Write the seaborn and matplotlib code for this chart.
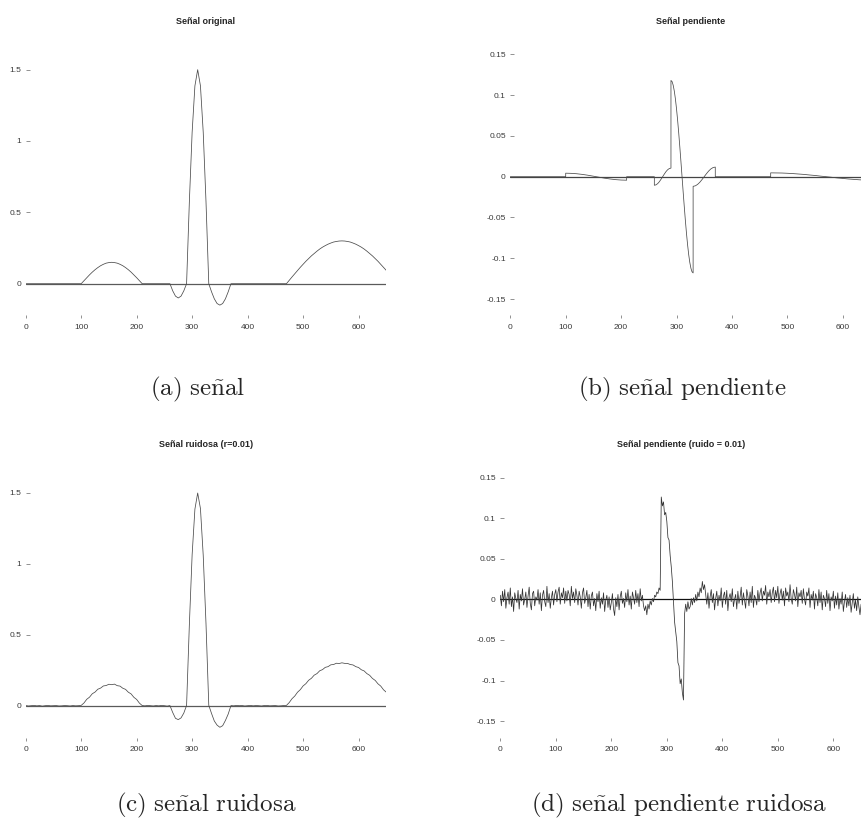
import numpy as np
import matplotlib
matplotlib.use("Agg")
import matplotlib.pyplot as plt
import seaborn as sns

# sample positions
x_step5 = np.arange(0, 651, 5)
x_step2 = np.arange(0, 651, 2)

# (a) original signal, thousandths, every 5 samples
senal = ([0] * 20
         + [0, 21, 42, 62, 81, 98, 113, 126, 136, 144, 148, 150, 148, 144, 136, 126, 113, 98, 81, 62, 42, 21, 0]
         + [0] * 9
         + [0, -50, -87, -100, -87, -50, 0]
         + [574, 1061, 1386, 1500, 1386, 1061, 574, 0]
         + [-57, -106, -139, -150, -139, -106, -57, 0]
         + [0] * 19
         + [0, 24, 47, 70, 93, 115, 136, 157, 176, 195, 212, 228, 243, 256, 267, 277, 285, 292, 296,
            299, 300, 299, 296, 292, 285, 277, 267, 256, 243, 228, 212, 195, 176, 157, 136, 115, 93])

# (b) slope of the signal, per segment
pend_seg1 = [0.0043, 0.0041, 0.0036, 0.0028, 0.0018, 0.0006, -0.0006, -0.0018, -0.0028, -0.0036, -0.0041, -0.0043]
pend_seg2 = [-0.0105, -0.0100, -0.0085, -0.0062, -0.0032, 0, 0.0032, 0.0062, 0.0085, 0.0100, 0.0105]
pend_seg3 = [0.118, 0.1166, 0.1122, 0.1051, 0.0955, 0.0834, 0.0694, 0.0536, 0.0365, 0.0185, 0,
             -0.0185, -0.0365, -0.0536, -0.0694, -0.0834, -0.0955, -0.1051, -0.1122, -0.1166, -0.118]
pend_seg4 = [-0.0118, -0.0112, -0.0095, -0.0069, -0.0036, 0, 0.0036, 0.0069, 0.0095, 0.0112, 0.0118]
pend_seg5 = [0.0047, 0.0046, 0.0045, 0.0042, 0.0038, 0.0033, 0.0028, 0.0021, 0.0015, 0.0007, 0,
             -0.0007, -0.0015, -0.0021, -0.0028, -0.0033, -0.0038, -0.0042, -0.0045]

pend_x = np.concatenate([[0, 100], np.arange(100, 211, 10), [210, 260], np.arange(260, 291, 3),
                         np.arange(290, 331, 2), np.arange(330, 371, 4), [370, 470], np.arange(470, 651, 10)])
pend_y = np.concatenate([[0, 0], pend_seg1, [0, 0], pend_seg2, pend_seg3, pend_seg4, [0, 0], pend_seg5])

# (c) noisy signal, thousandths, every 5 samples
ruidosa = ([1, -2, 0, 2, -1, 1, -3, 0, 2, -1, 0, 1, -2, -1, 1, 0, -2, 1, -1, 0]
           + [2, 19, 45, 60, 84, 96, 116, 124, 139, 142, 151, 148, 152, 141, 138, 123, 115, 95, 83, 59, 44, 18, 1]
           + [-1, 2, 0, -2, 1, -1, 2, 0, -3]
           + [1, -48, -89, -98, -86, -52, 2]
           + [571, 1063, 1384, 1498, 1388, 1058, 577, 3]
           + [-55, -108, -137, -152, -141, -104, -59, 1]
           + [-1, 2, 0, 1, -2, 0, 2, -1, 1, 0, -2, 1, 2, -1, 0, 1, -2, -1, 1]
           + [2, 22, 49, 68, 95, 113, 139, 155, 179, 193, 215, 226, 246, 254, 270, 275, 288, 290, 299,
              297, 302, 298, 298, 290, 287, 275, 269, 253, 245, 226, 214, 192, 178, 154, 138, 112, 95])

# (d) slope of the noisy signal, thousandths, every 2 samples
pr_0 = [5, -8, 10, -3, 12, -11, 2, 9, -6, 14, -9, 3, -15, 8, 1, -4, 11, -12, 6, -2, 13, -7, 0, 9, -10,
        4, 15, -5, -13, 7, 10, -8, 3, -1, 12, -6, 8, -14, 5, 11, -3, -9, 16, -4, 7, -11, 2, 10, -7, 6]
pr_100 = [12, -3, 9, 15, -6, 8, 2, 14, -5, 10, -2, 11, 6, -8, 16, 1, 9, -4, 13, 5,
          -7, 10, 3, -11, 8, 14, -5, 2, 11, -9, 6, -12, 4, 9, -8, 1, -14, 7, -3, 10,
          -11, 2, -6, 8, -15, -1, 5, -10, 3, -13, -4, 7, -12, -20, 2]
pr_210 = [-9, 6, -13, 3, 10, -5, 1, -10, 8, -3, 12, -7, 4, -12, 9, 2, -6, 11, -4, 7, -9, 13, -2, 5, -8]
pr_260 = [-14, -8, -19, -6, -12, -2, -7, 1, -3, 5, 3, 9, 7, 14, 11]
pr_290 = [126, 115, 120, 104, 107, 96, 76, 73, 54, 40, 22, -2, -28, -40, -52, -78, -82, -104, -98, -115, -124]
pr_332 = [-18, -6, -15, -3, -12, -9, 1, -7, 2, -4, 6, -2, 9, 3, 14, 8, 22, 12, 18, 6]
pr_372 = [-6, 8, -11, 3, 12, -4, 7, -13, 1, 10, -8, 5, -2, 14, -10, 4, 9, -6, 11, -14,
          2, 7, -3, 13, -9, 0, 6, -12, 10, -5, 3, 15, -7, 8, -2, -11, 12, 4, -8, 9,
          -4, 16, -10, 5, 1, -7, 11, -3, 8]
pr_470 = [14, -2, 10, 5, 17, -6, 9, 3, 12, -4, 8, 15, -3, 11, 2, 16, -5, 7, 13, -1,
          10, -8, 14, 4, 9, -3, 18, 1, -6, 12, 6, -2, 15, -9, 8, 3, 11, -5, 13, 0,
          -7, 9, 4, 14, -10, 6, -1, 10, -12, 7, 2, -8, 12, -4, 9, -13, 5, 1, -9, 11,
          -5, 7, -14, 3, -2, 10, -11, 4, -7, 8, -12, 1, -6, 9, -15, -3, 6, -10, 2, -8,
          5, -16, -4, 7, -11, -1, -14, 3, -9, -19, -6]
pend_ruido = pr_0 + pr_100 + pr_210 + pr_260 + pr_290 + pr_332 + pr_372 + pr_470

titulos = ["Señal original", "Señal pendiente", "Señal ruidosa (r=0.01)", "Señal pendiente (ruido = 0.01)"]
subtitulos = [r"$\mathrm{(a)\ se\tilde{n}al}$", r"$\mathrm{(b)\ se\tilde{n}al\ pendiente}$",
              r"$\mathrm{(c)\ se\tilde{n}al\ ruidosa}$", r"$\mathrm{(d)\ se\tilde{n}al\ pendiente\ ruidosa}$"]
xticks = [0, 100, 200, 300, 400, 500, 600]
yticks_sig = [0, 0.5, 1, 1.5]
ylabels_sig = ["0", "0.5", "1", "1.5"]
yticks_pend = [-0.15, -0.1, -0.05, 0, 0.05, 0.1, 0.15]
ylabels_pend = ["-0.15", "-0.1", "-0.05", "0", "0.05", "0.1", "0.15"]

sns.set_style("white")
plt.rcParams["font.family"] = ["Liberation Sans", "DejaVu Sans"]
plt.rcParams["mathtext.fontset"] = "cm"

W, H = 861, 821
fig = plt.figure(figsize=(W / 100, H / 100), dpi=100)


def rect(l, r, t, b):
    return [l / W, 1 - b / H, (r - l) / W, (b - t) / H]


def panel(box, ylim, xs, ys, yt, yl, line_col, zero_col):
    ax = fig.add_axes(box)
    ax.axhline(0, color=zero_col, lw=0.9, zorder=1)
    sns.lineplot(x=xs, y=ys, ax=ax, color=line_col, linewidth=0.55,
                 estimator=None, sort=False, zorder=2)
    ax.set_xlim(0, 650)
    ax.set_ylim(*ylim)
    ax.set_xticks(xticks)
    ax.set_xticklabels([str(t) for t in xticks])
    ax.set_yticks(yt)
    ax.set_yticklabels(yl)
    for s in ax.spines.values():
        s.set_visible(False)
    ax.tick_params(axis="y", direction="in", length=2.6, width=0.5, pad=3.2,
                   color="#666666", labelcolor="#3a3a3a", labelsize=6, left=True)
    ax.tick_params(axis="x", direction="out", length=2.2, width=0.5, pad=3.8,
                   color="#666666", labelcolor="#3a3a3a", labelsize=6, bottom=True)
    ax.set_xlabel("")
    ax.set_ylabel("")
    return ax


panel(rect(25.7, 386.3, 60, 315.5), (-0.2228, 1.5676), x_step5, np.array(senal) / 1000,
      yticks_sig, ylabels_sig, "#4a4a4a", "#5a5a5a")
panel(rect(510.3, 870.4, 40, 315.5), (-0.1702, 0.1676), pend_x, pend_y,
      yticks_pend, ylabels_pend, "#4a4a4a", "#444444")
panel(rect(25.7, 386.3, 480, 738), (-0.2275, 1.5894), x_step5, np.array(ruidosa) / 1000,
      yticks_sig, ylabels_sig, "#4a4a4a", "#5a5a5a")
panel(rect(500.3, 861.1, 465, 738), (-0.1708, 0.1654), x_step2, np.array(pend_ruido) / 1000,
      yticks_pend, ylabels_pend, "#333333", "#111111")

title_pos = [(206, 21), (690.3, 21), (206, 444), (680.7, 444)]
for (tx, ty), t in zip(title_pos, titulos):
    fig.text(tx / W, 1 - ty / H, t, ha="center", va="center", fontsize=6.5, fontweight="bold")

cap_pos = [(197, 389), (682, 389), (206, 805), (679, 805)]
for (cx, cy), t in zip(cap_pos, subtitulos):
    fig.text(cx / W, 1 - cy / H, t, ha="center", va="center", fontsize=18)

fig.savefig("out.png", dpi=100)
